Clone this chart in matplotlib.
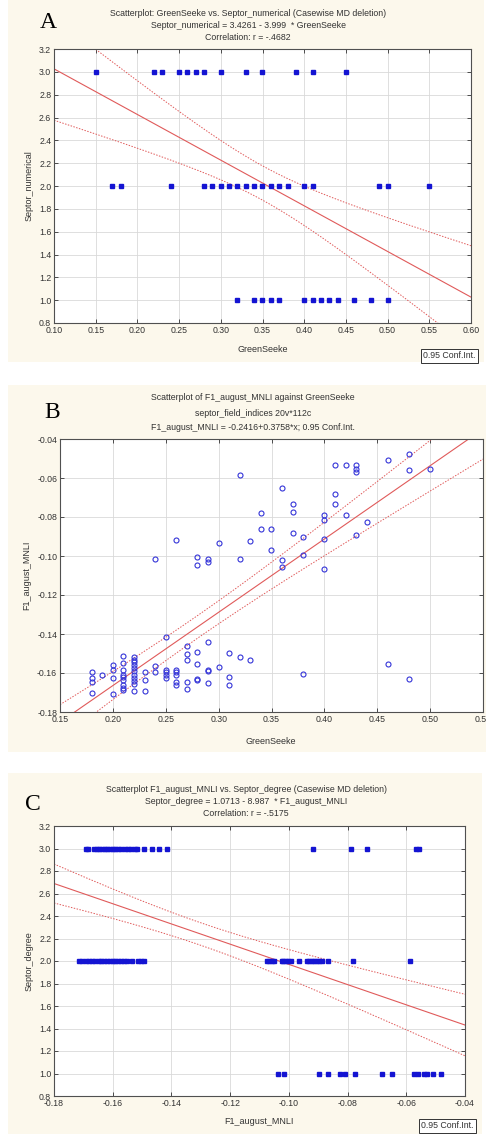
import numpy as np
import matplotlib
matplotlib.use("Agg")
import matplotlib.pyplot as plt
from matplotlib.patches import Rectangle

plt.rcParams['font.family'] = ['Liberation Sans', 'DejaVu Sans']
plt.rcParams['axes.unicode_minus'] = False

# ---- panel A : GreenSeeke vs Septor_numerical ----
a_x3 = [0.15, 0.22, 0.23, 0.25, 0.26, 0.27, 0.28, 0.30, 0.33, 0.35, 0.39, 0.41, 0.45]
a_x2 = [0.17, 0.18, 0.24, 0.28, 0.29, 0.30, 0.31, 0.32, 0.33, 0.34, 0.35, 0.36, 0.37,
        0.38, 0.40, 0.41, 0.49, 0.50, 0.55]
a_x1 = [0.32, 0.34, 0.35, 0.36, 0.37, 0.40, 0.41, 0.42, 0.43, 0.44, 0.46, 0.48, 0.50]
a_fit = (3.4261, -3.999)
a_ci = (0.35, 0.15, 2.88)   # centre, half width at centre, curvature

# ---- panel B : F1_august_MNLI against GreenSeeke ----
b_x = [0.32, 0.46, 0.48, 0.48, 0.50, 0.41, 0.42, 0.43, 0.43, 0.43,
       0.36, 0.37, 0.37, 0.41, 0.41, 0.34, 0.40, 0.40, 0.42, 0.44,
       0.34, 0.35, 0.37, 0.38, 0.43, 0.40, 0.26, 0.30, 0.33, 0.35,
       0.38, 0.28, 0.29, 0.29, 0.28, 0.24, 0.32, 0.36, 0.36, 0.40,
       0.18, 0.18, 0.18, 0.18, 0.19, 0.20, 0.20, 0.20, 0.20,
       0.21, 0.21, 0.21, 0.21, 0.21, 0.21, 0.21, 0.21, 0.21,
       0.22, 0.22, 0.22, 0.22, 0.22, 0.22, 0.22, 0.22, 0.22, 0.22, 0.22,
       0.23, 0.23, 0.23, 0.24, 0.24, 0.25, 0.25, 0.25, 0.25, 0.25,
       0.26, 0.26, 0.26, 0.26, 0.26, 0.27, 0.27, 0.27, 0.27, 0.27,
       0.28, 0.28, 0.28, 0.28, 0.29, 0.29, 0.29, 0.29, 0.30,
       0.31, 0.31, 0.31, 0.32, 0.33, 0.38, 0.46, 0.48]
b_y = [-0.0583, -0.0506, -0.0479, -0.0559, -0.0554, -0.0533, -0.0532, -0.0532, -0.0552, -0.0571,
       -0.0651, -0.0732, -0.0776, -0.0684, -0.0732, -0.0779, -0.0791, -0.0814, -0.0791, -0.0827,
       -0.0863, -0.0863, -0.0884, -0.0901, -0.0891, -0.0913, -0.0920, -0.0935, -0.0925, -0.0969,
       -0.0993, -0.1003, -0.1015, -0.1032, -0.1044, -0.1015, -0.1017, -0.1022, -0.1056, -0.1068,
       -0.1597, -0.1626, -0.1645, -0.1703, -0.1611, -0.1559, -0.1583, -0.1624, -0.1710,
       -0.1513, -0.1549, -0.1583, -0.1612, -0.1622, -0.1634, -0.1664, -0.1675, -0.1686,
       -0.1518, -0.1532, -0.1545, -0.1561, -0.1574, -0.1592, -0.1609, -0.1626, -0.1643, -0.1656, -0.1691,
       -0.1597, -0.1634, -0.1691, -0.1566, -0.1593, -0.1417, -0.1583, -0.1597, -0.1611, -0.1624,
       -0.1583, -0.1597, -0.1611, -0.1648, -0.1661, -0.1463, -0.1505, -0.1533, -0.1646, -0.1682,
       -0.1491, -0.1552, -0.1632, -0.1636, -0.1443, -0.1583, -0.1588, -0.1650, -0.1571,
       -0.1498, -0.1622, -0.1664, -0.1518, -0.1535, -0.1607, -0.1554, -0.1631]
b_fit = (-0.2416, 0.3758)
b_ci = (0.28, 0.0058, 2.79e-3)

# ---- panel C : F1_august_MNLI vs Septor_degree ----
c_x3 = [-0.1691, -0.1684, -0.1663, -0.1655, -0.1646, -0.1636, -0.1627, -0.1618, -0.1609,
        -0.1600, -0.1591, -0.1582, -0.1571, -0.1559, -0.1548, -0.1537, -0.1525, -0.1516,
        -0.1493, -0.1465, -0.1443, -0.1416, -0.0917, -0.0790, -0.0735, -0.0568, -0.0556]
c_x2 = [-0.1715, -0.1706, -0.1691, -0.1682, -0.1671, -0.1659, -0.1648, -0.1639, -0.1630,
        -0.1621, -0.1609, -0.1600, -0.1591, -0.1582, -0.1573, -0.1562, -0.1552, -0.1534,
        -0.1514, -0.1505, -0.1493, -0.1073, -0.1066, -0.1058, -0.1050, -0.1024, -0.1019,
        -0.1010, -0.1002, -0.0994, -0.0964, -0.0939, -0.0930, -0.0922, -0.0913, -0.0905,
        -0.0896, -0.0888, -0.0867, -0.0782, -0.0586]
c_x1 = [-0.1036, -0.1016, -0.0896, -0.0867, -0.0826, -0.0810, -0.0775, -0.0683, -0.0649,
        -0.0573, -0.0559, -0.0538, -0.0530, -0.0510, -0.0481]
c_fit = (1.0713, -8.987)
c_ci = (-0.13, 0.10, 8.0)

W, H = 486, 1134
BG = "#fcf8ec"
RED = "#e05a5a"
BLUE = "#1414d2"


def px_axes(fig, l, t, r, b):
    return fig.add_axes([l / W, 1 - b / H, (r - l) / W, (b - t) / H])


def style(ax, xlim, ylim, xt, yt, xfmt, yfmt):
    ax.set_xlim(xlim)
    ax.set_ylim(ylim)
    ax.set_xticks(xt)
    ax.set_yticks(yt)
    ax.set_xticklabels([xfmt % v for v in xt])
    ax.set_yticklabels([yfmt % v for v in yt])
    ax.grid(True, color="#d9d9d9", lw=0.6)
    ax.set_axisbelow(True)
    ax.tick_params(direction="in", length=3, width=0.6, labelsize=6.3,
                   colors="#333333", top=True, right=True, pad=2)
    for s in ax.spines.values():
        s.set_color("#505050")
        s.set_linewidth(0.8)
    ax.set_facecolor("white")


def fit_lines(ax, xlim, fit, ci):
    xs = np.linspace(xlim[0], xlim[1], 200)
    yh = fit[0] + fit[1] * xs
    hw = np.sqrt(ci[1] ** 2 + ci[2] * (xs - ci[0]) ** 2)
    ax.plot(xs, yh, color=RED, lw=0.8)
    ax.plot(xs, yh + hw, color=RED, lw=0.7, ls=(0, (1.5, 1.5)))
    ax.plot(xs, yh - hw, color=RED, lw=0.7, ls=(0, (1.5, 1.5)))


def titles(fig, x, ys, lines):
    for y, s in zip(ys, lines):
        fig.text(x / W, 1 - y / H, s, ha="center", va="center", fontsize=6.3, color="#333333")


def conf_box(fig, x, y):
    fig.text(x / W, 1 - y / H, "0.95 Conf.Int.", ha="left", va="center", fontsize=6.3,
             color="#333333", bbox=dict(boxstyle="square,pad=0.25", fc="white", ec="#333333", lw=0.7))


fig = plt.figure(figsize=(W / 100, H / 100), dpi=100)
fig.patch.set_facecolor("white")
for (l, t, r, b) in [(8, 0, 484, 362), (8, 385, 486, 752), (8, 773, 482, 1134)]:
    fig.patches.append(Rectangle((l / W, 1 - b / H), (r - l) / W, (b - t) / H,
                                 transform=fig.transFigure, fc=BG, ec="none", zorder=-1))

# panel A
axA = px_axes(fig, 54, 49, 471, 323)
xl = (0.10, 0.60)
style(axA, xl, (0.8, 3.2), np.arange(0.10, 0.601, 0.05), np.arange(0.8, 3.201, 0.2), "%.2f", "%.1f")
fit_lines(axA, xl, a_fit, a_ci)
for xs, lvl in [(a_x3, 3.0), (a_x2, 2.0), (a_x1, 1.0)]:
    axA.plot(xs, [lvl] * len(xs), "s", ms=2.8, color=BLUE, mec=BLUE)
axA.set_ylabel("Septor_numerical", fontsize=6.5, color="#333333", labelpad=4)
fig.text(263 / W, 1 - 349 / H, "GreenSeeke", ha="center", va="center", fontsize=6.5, color="#333333")
titles(fig, 248, [13, 25, 37], ["Scatterplot: GreenSeeke vs. Septor_numerical (Casewise MD deletion)",
                                "Septor_numerical = 3.4261 - 3.999  * GreenSeeke",
                                "Correlation: r = -.4682"])
fig.text(48 / W, 1 - 22 / H, "A", ha="center", va="center", fontsize=17, family="Liberation Serif")
conf_box(fig, 423, 356)

# panel B
axB = px_axes(fig, 60, 439, 483, 712)
xl = (0.15, 0.55)
style(axB, xl, (-0.18, -0.04), np.arange(0.15, 0.551, 0.05), np.arange(-0.18, -0.039, 0.02), "%.2f", "%.2f")
fit_lines(axB, xl, b_fit, b_ci)
axB.plot(b_x, b_y, "o", ms=3.6, mfc="none", mec="#3434d8", mew=0.8)
axB.set_ylabel("F1_august_MNLI", fontsize=6.5, color="#333333", labelpad=4)
for lab in axB.get_xticklabels():
    lab.set_clip_on(False)
fig.text(271 / W, 1 - 742 / H, "GreenSeeke", ha="center", va="center", fontsize=6.5, color="#333333")
titles(fig, 253, [398, 413, 427], ["Scatterplot of F1_august_MNLI against GreenSeeke",
                                   "septor_field_indices 20v*112c",
                                   "F1_august_MNLI = -0.2416+0.3758*x; 0.95 Conf.Int."])
fig.text(52 / W, 1 - 412 / H, "B", ha="center", va="center", fontsize=17, family="Liberation Serif")

# panel C
axC = px_axes(fig, 54, 826, 465, 1096)
xl = (-0.18, -0.04)
style(axC, xl, (0.8, 3.2), np.arange(-0.18, -0.039, 0.02), np.arange(0.8, 3.201, 0.2), "%.2f", "%.1f")
fit_lines(axC, xl, c_fit, c_ci)
for xs, lvl in [(c_x3, 3.0), (c_x2, 2.0), (c_x1, 1.0)]:
    axC.plot(xs, [lvl] * len(xs), "s", ms=2.8, color=BLUE, mec=BLUE)
axC.set_ylabel("Septor_degree", fontsize=6.5, color="#333333", labelpad=4)
fig.text(259 / W, 1 - 1121 / H, "F1_august_MNLI", ha="center", va="center", fontsize=6.5, color="#333333")
titles(fig, 246, [789, 802, 814], ["Scatterplot F1_august_MNLI vs. Septor_degree (Casewise MD deletion)",
                                   "Septor_degree = 1.0713 - 8.987  * F1_august_MNLI",
                                   "Correlation: r = -.5175"])
fig.text(33 / W, 1 - 805 / H, "C", ha="center", va="center", fontsize=17, family="Liberation Serif")
conf_box(fig, 421, 1126)

fig.savefig("out.png", dpi=100, facecolor=fig.get_facecolor())
